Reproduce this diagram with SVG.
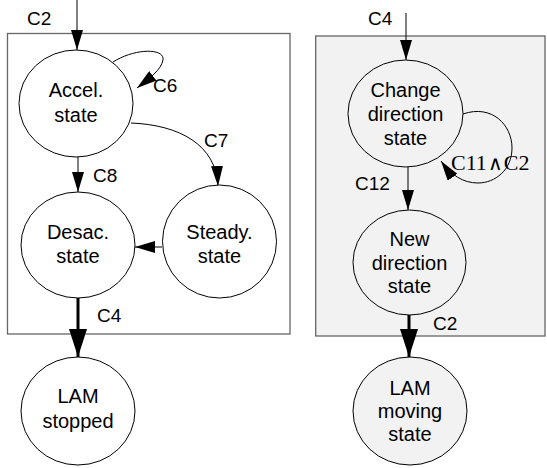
<svg xmlns="http://www.w3.org/2000/svg" width="547" height="468" viewBox="0 0 547 468">
<style>
.box{stroke:#666;stroke-width:1.3}
.node{fill:#fff;stroke:#000;stroke-width:1}
.gray{fill:#f2f2f2}
.t{font-family:"Liberation Sans",Arial,sans-serif;font-size:20px;fill:#000;text-anchor:middle}
.l{font-family:"Liberation Sans",Arial,sans-serif;font-size:19px;fill:#000}
.s{font-family:"Liberation Serif","Times New Roman",serif;font-size:22px;fill:#000}
.e{fill:none;stroke:#000;stroke-width:1}
.thick{fill:none;stroke:#000;stroke-width:3}
</style>
<defs>
<marker id="a" viewBox="0 0 20 12" refX="20" refY="6" markerWidth="20" markerHeight="12" markerUnits="userSpaceOnUse" orient="auto"><path d="M0,0 L20,6 L0,12 z" fill="#000"/></marker>
<marker id="b" viewBox="0 0 28 18" refX="28" refY="9" markerWidth="28" markerHeight="18" markerUnits="userSpaceOnUse" orient="auto"><path d="M0,0 L28,9 L0,18 z" fill="#000"/></marker>
</defs>
<rect class="box" x="7.5" y="33.5" width="282.5" height="300.5" fill="#fff"/>
<rect class="box gray" x="315.7" y="36" width="229.3" height="300"/>
<g id="connectors">
<path class="e" d="M77,0 L77,50" marker-end="url(#a)"/>
<path class="e" d="M113,62 C135,48 165,48 163,60 C161,70 150,78 137,88" marker-end="url(#a)"/>
<path class="e" d="M131,123 C180,125 216,145 218,186" marker-end="url(#a)"/>
<path class="e" d="M78,157 L78,192" marker-end="url(#a)"/>
<path class="e" d="M162,247 L135,247" marker-end="url(#a)"/>
<path class="thick" d="M78,298 L78,357" marker-end="url(#b)"/>
<path class="e" d="M406,13 L406,60" marker-end="url(#a)"/>
<path class="e" d="M463,114 C492,104 512,125 512,148 C512,170 495,183 478,183 C463,183 451,175 441,161" marker-end="url(#a)"/>
<path class="e" d="M408,167 L408,210" marker-end="url(#a)" stroke="#555"/>
<path class="thick" d="M409,315 L409,357" marker-end="url(#b)"/>
<text class="l" x="27" y="25">C2</text>
<text class="l" x="153" y="92">C6</text>
<text class="l" x="204" y="147">C7</text>
<text class="l" x="93" y="182">C8</text>
<text class="l" x="97" y="322">C4</text>
<text class="l" x="368" y="25">C4</text>
<text class="s" x="451" y="170">C11<tspan font-family="'DejaVu Sans',sans-serif" font-size="20px" font-weight="200" dx="1">∧</tspan><tspan dx="1">C2</tspan></text>
<text class="l" x="355" y="190">C12</text>
<text class="l" x="433" y="330">C2</text>
</g>
<g id="accel"><ellipse class="node" cx="76" cy="103.5" rx="57" ry="53.5"/><text class="t" x="76" y="97">Accel.</text><text class="t" x="76" y="122">state</text></g>
<g id="desac"><ellipse class="node" cx="78" cy="245" rx="57" ry="53"/><text class="t" x="78" y="239">Desac.</text><text class="t" x="78" y="263">state</text></g>
<g id="steady"><ellipse class="node" cx="219.5" cy="241.5" rx="57" ry="56.5"/><text class="t" x="219.5" y="239">Steady.</text><text class="t" x="219.5" y="263">state</text></g>
<g id="stopped"><ellipse class="node" cx="78" cy="411" rx="57" ry="54"/><text class="t" x="78" y="403">LAM</text><text class="t" x="78" y="428">stopped</text></g>
<g id="change"><ellipse class="node gray" cx="405.5" cy="113.5" rx="57.5" ry="53.5"/><text class="t" x="405.5" y="97">Change</text><text class="t" x="405.5" y="121">direction</text><text class="t" x="405.5" y="145">state</text></g>
<g id="newdir"><ellipse class="node gray" cx="409.5" cy="262.5" rx="56.5" ry="52.5"/><text class="t" x="409.5" y="246">New</text><text class="t" x="409.5" y="270">direction</text><text class="t" x="409.5" y="293">state</text></g>
<g id="moving"><ellipse class="node gray" cx="410" cy="411" rx="57" ry="54"/><text class="t" x="410" y="395">LAM</text><text class="t" x="410" y="418">moving</text><text class="t" x="410" y="441">state</text></g>
</svg>
